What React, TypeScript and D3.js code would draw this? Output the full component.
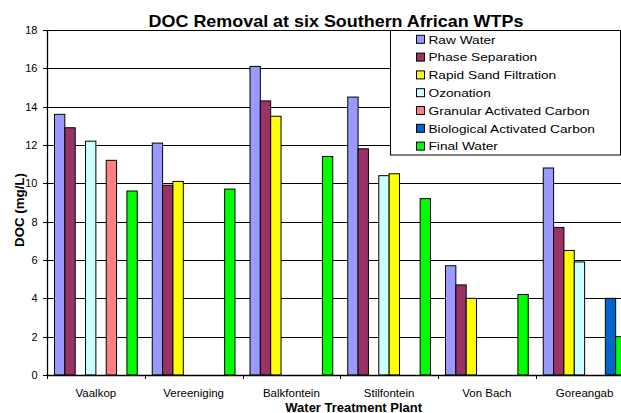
import React from "react";
import * as d3 from "d3";

const plants = ["Vaalkop", "Vereeniging", "Balkfontein", "Stilfontein", "Von Bach", "Goreangab"];
// 8 series slots; the second sand-filtration series (after ozonation) shares the yellow colour and has no legend entry
const seriesNames = [
  "Raw Water",
  "Phase Separation",
  "Rapid Sand Filtration",
  "Ozonation",
  "Rapid Sand Filtration (after ozonation)",
  "Granular Activated Carbon",
  "Biological Activated Carbon",
  "Final Water",
];
const seriesColors = ["#9999FF", "#993366", "#FFFF00", "#CCFFFF", "#FFFF00", "#FF8080", "#0066CC", "#00FF00"];
const legendNames = [
  "Raw Water",
  "Phase Separation",
  "Rapid Sand Filtration",
  "Ozonation",
  "Granular Activated Carbon",
  "Biological Activated Carbon",
  "Final Water",
];

const rawWater = [13.6, 12.1, 16.1, 14.5, 5.7, 10.8];
const phaseSeparation = [12.9, 9.9, 14.3, 11.8, 4.7, 7.7];
const rapidSandFiltration = [null, 10.1, 13.5, null, 4.0, 6.5];
const ozonation = [12.2, null, null, 10.4, null, 5.9];
const sandFiltrationAfterOzone = [null, null, null, 10.5, null, null];
const granularAC = [11.2, null, null, null, null, null];
const biologicalAC = [null, null, null, null, null, 4.0];
const finalWater = [9.6, 9.7, 11.4, 9.2, 4.2, 2.0];
const seriesValues: (number | null)[][] = [
  rawWater,
  phaseSeparation,
  rapidSandFiltration,
  ozonation,
  sandFiltrationAfterOzone,
  granularAC,
  biologicalAC,
  finalWater,
];
const yTicks = [0, 2, 4, 6, 8, 10, 12, 14, 16, 18];

const W = 621;
const H = 413;
const left = 47;
const right = 633.5;
const top = 30;
const bottom = 375;
const font = "Liberation Sans, Arial, sans-serif";

export default function App() {
  const x0 = d3.scaleBand<string>().domain(plants).range([left, right]).paddingInner(0).paddingOuter(0);
  const x1 = d3.scaleBand<string>().domain(seriesNames).range([0, x0.bandwidth()]).paddingInner(0).paddingOuter(0.725);
  const y = d3.scaleLinear().domain([0, 18]).range([bottom, top]);
  const legendColor = d3.scaleOrdinal<string, string>().domain(seriesNames).range(seriesColors);

  const bars: React.ReactNode[] = [];
  seriesNames.forEach((name, si) => {
    seriesValues[si].forEach((v, ci) => {
      if (v == null) return;
      const x = (x0(plants[ci]) as number) + (x1(name) as number);
      bars.push(
        <rect
          key={`${si}-${ci}`}
          x={x}
          y={y(v)}
          width={x1.bandwidth()}
          height={y(0) - y(v)}
          fill={seriesColors[si]}
          stroke="#000"
          strokeWidth={1}
        />
      );
    });
  });

  const catTicks = [...plants.map((p) => x0(p) as number), right];

  return (
    <svg width={W} height={H} style={{ position: "absolute", left: 0, top: 0, background: "#fff" }} fontFamily={font}>
      <rect x={0} y={0} width={W} height={H} fill="#fff" />
      {yTicks.map((t) => (
        <line key={"g" + t} x1={left} x2={right} y1={Math.round(y(t)) + 0.5} y2={Math.round(y(t)) + 0.5} stroke="#000" strokeWidth={1} />
      ))}
      {bars}
      <line x1={left + 0.5} x2={left + 0.5} y1={top} y2={bottom + 0.5} stroke="#000" strokeWidth={1.3} />
      {yTicks.map((t) => (
        <g key={"yt" + t}>
          <line x1={left - 4} x2={left} y1={Math.round(y(t)) + 0.5} y2={Math.round(y(t)) + 0.5} stroke="#000" />
          <text x={37.5} y={y(t)} dy="0.35em" textAnchor="end" fontSize={11} fill="#000">
            {t}
          </text>
        </g>
      ))}
      <line x1={left} x2={right} y1={bottom + 0.5} y2={bottom + 0.5} stroke="#000" strokeWidth={1.3} />
      {catTicks.map((cx, i) => (
        <line key={"xt" + i} x1={Math.round(cx) + 0.5} x2={Math.round(cx) + 0.5} y1={bottom} y2={bottom + 4} stroke="#000" />
      ))}
      {plants.map((p) => (
        <text key={"xl" + p} x={(x0(p) as number) + x0.bandwidth() / 2} y={396.5} textAnchor="middle" fontSize={11.5} fill="#000">
          {p}
        </text>
      ))}
      <rect x={390.5} y={30.5} width={230} height={124.5} fill="#fff" stroke="#000" strokeWidth={1} />
      {legendNames.map((name, i) => {
        const cy = 39.3 + i * 17.8;
        return (
          <g key={"lg" + name}>
            <rect x={416.5} y={cy - 4} width={8} height={8} fill={legendColor(name)} stroke="#000" strokeWidth={1} />
            <g transform={`translate(428.5, ${cy + 4.3}) scale(1.16, 1)`}>
              <text x={0} y={0} fontSize={11.8} fill="#000">
                {name}
              </text>
            </g>
          </g>
        );
      })}
      <g transform={`translate(336, 26.8) scale(1.1, 1)`}>
        <text x={0} y={0} textAnchor="middle" fontSize={16.3} fontWeight="bold" fill="#000">
          DOC Removal at six Southern African WTPs
        </text>
      </g>
      <text x={353.7} y={411.5} textAnchor="middle" fontSize={13} fontWeight="bold" fill="#000">
        Water Treatment Plant
      </text>
      <text transform="translate(23.5, 210) rotate(-90)" textAnchor="middle" fontSize={13.3} fontWeight="bold" fill="#000">
        DOC (mg/L)
      </text>
    </svg>
  );
}
